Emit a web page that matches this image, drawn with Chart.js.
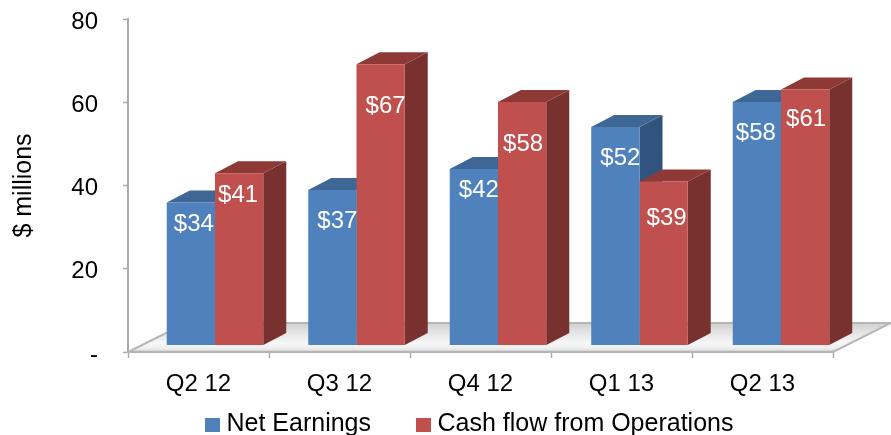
<!DOCTYPE html>
<html>
<head>
<meta charset="utf-8">
<style>html,body{margin:0;padding:0;background:#fff}canvas{display:block}</style>
<script src="https://cdn.jsdelivr.net/npm/chart.js@4"></script>
</head>
<body>
<canvas id="c" width="891" height="435"></canvas>
<script>
const categories = ['Q2 12','Q3 12','Q4 12','Q1 13','Q2 13'];
const netEarnings = [34,37,42,52,58];
const cashFlow = [41,67,58,39,61];
const seriesNames = ['Net Earnings','Cash flow from Operations'];
const yTicks = [0,20,40,60,80];
// label placement below bar top (px), per bar
const labelDrop = [[22,31,21,31,31],[22,42,42,37,30]];
const labelShift = [[3,5,5,5,-1],[-1,5,1,3,1]];

const FONT = 'Liberation Sans, Arial, sans-serif';
const palette = [
  {front:'#4F81BD', top:'#3F6796', side:'#31547E'},
  {front:'#C0504D', top:'#8F3937', side:'#793130'}
];
const DEPTH = {x:23, y:12};
const FLOOR = {x:58, y:29};
const GREY = '#ABABAB';

function swatch(color){
  const s=document.createElement('canvas'); s.width=15; s.height=14;
  const g=s.getContext('2d'); g.fillStyle=color; g.fillRect(0,0,15,14); return s;
}

const scene = {
  id:'scene',
  beforeLayout(chart){
    const l=chart.legend;
    if(l && !l._wrapped){
      const fit=l.fit;
      l.fit=function(){fit.call(this); this.height=0;};
      l._wrapped=true;
    }
  },
  afterLayout(chart){
    const l=chart.legend;
    l.left=160; l.right=891; l.top=362; l.bottom=435;
  },
  beforeDatasetsDraw(chart){
    const {ctx}=chart, xs=chart.scales.x, ys=chart.scales.y;
    const l=xs.left, r=xs.right, b=ys.getPixelForValue(0);
    ctx.save();
    const g=ctx.createLinearGradient(0,b-FLOOR.y,0,b);
    g.addColorStop(0,'#cfcfcf'); g.addColorStop(.25,'#e0e0e0');
    g.addColorStop(.7,'#f7f7f7'); g.addColorStop(.9,'#ececec'); g.addColorStop(1,'#c4c4c4');
    ctx.beginPath();
    ctx.moveTo(l,b); ctx.lineTo(r,b); ctx.lineTo(r+FLOOR.x,b-FLOOR.y); ctx.lineTo(l+FLOOR.x,b-FLOOR.y); ctx.closePath();
    ctx.fillStyle=g; ctx.fill();
    ctx.strokeStyle='#B5B5B5'; ctx.lineWidth=2; ctx.stroke();
    // sides and tops, one series after the other per bar
    chart.data.datasets.forEach((ds,d)=>{
      chart.getDatasetMeta(d).data.forEach(bar=>{
        const {x,y,base,width}=bar.getProps(['x','y','base','width'],true);
        const L=x-width/2, R=x+width/2;
        ctx.fillStyle=palette[d].side;
        ctx.beginPath();
        ctx.moveTo(R,y); ctx.lineTo(R+DEPTH.x,y-DEPTH.y); ctx.lineTo(R+DEPTH.x,base-DEPTH.y); ctx.lineTo(R,base); ctx.closePath(); ctx.fill();
        ctx.fillStyle=palette[d].top;
        ctx.beginPath();
        ctx.moveTo(L,y); ctx.lineTo(R,y); ctx.lineTo(R+DEPTH.x,y-DEPTH.y); ctx.lineTo(L+DEPTH.x,y-DEPTH.y); ctx.closePath(); ctx.fill();
      });
    });
    ctx.restore();
  },
  afterDatasetsDraw(chart){
    const {ctx}=chart;
    ctx.save();
    ctx.fillStyle='#fff'; ctx.font='24px '+FONT; ctx.textAlign='center'; ctx.textBaseline='middle';
    chart.data.datasets.forEach((ds,d)=>{
      chart.getDatasetMeta(d).data.forEach((bar,i)=>{
        const p=bar.getProps(['x','y'],true);
        ctx.fillText('$'+ds.data[i].y, p.x+labelShift[d][i], p.y+labelDrop[d][i]);
      });
    });
    ctx.restore();
  }
};

new Chart(document.getElementById('c'),{
  type:'bar',
  data:{
    labels:categories,
    datasets:[netEarnings,cashFlow].map((vals,d)=>({
      label:seriesNames[d],
      data:vals.map((v,i)=>({x:i,y:v})),
      backgroundColor:palette[d].front,
      xAxisID:'x2', yAxisID:'y2',
      categoryPercentage:.682, barPercentage:1
    }))
  },
  options:{
    responsive:false, animation:false,
    layout:{padding:{top:19,right:58,left:0,bottom:0}},
    plugins:{
      tooltip:{enabled:false},
      legend:{
        position:'bottom', align:'start',
        labels:{
          font:{family:FONT,size:25}, color:'#000', padding:50,
          usePointStyle:true, pointStyleWidth:4, boxHeight:14,
          generateLabels:()=>seriesNames.map((t,d)=>({text:t,fontColor:'#000',pointStyle:swatch(palette[d].front),datasetIndex:d,lineWidth:0}))
        }
      }
    },
    scales:{
      x:{
        type:'category', labels:categories, offset:true, position:'bottom',
        grid:{offset:true,drawOnChartArea:false,color:GREY,tickLength:6,tickWidth:1.5},
        border:{color:GREY,width:2},
        ticks:{font:{family:FONT,size:24},color:'#000',padding:12,maxRotation:0},
        afterFit(s){s.height=83;s.paddingLeft=0;s.paddingRight=0;}
      },
      y:{
        type:'linear', min:0, max:80, position:'left',
        afterBuildTicks(s){s.ticks=yTicks.map(v=>({value:v}));},
        grid:{drawOnChartArea:false,color:GREY,tickLength:5,tickWidth:1.5},
        border:{color:GREY,width:2},
        ticks:{font:{family:FONT,size:24},color:'#000',padding:25,labelOffset:3,callback:v=>v===0?'-':v},
        title:{display:true,text:'$ millions',font:{family:FONT,size:25},color:'#000',padding:{top:9,bottom:0}},
        afterFit(s){s.width=128;s.paddingTop=0;s.paddingBottom=0;}
      },
      x2:{type:'linear',display:false,offset:false,grid:{offset:false},min:-0.6148,max:4.3675,position:'bottom',
        afterBuildTicks(s){s.ticks=categories.map((c,i)=>({value:i}));}},
      y2:{type:'linear',display:false,min:-1.67,max:77.8,position:'left'}
    }
  },
  plugins:[scene]
});
</script>
</body>
</html>
